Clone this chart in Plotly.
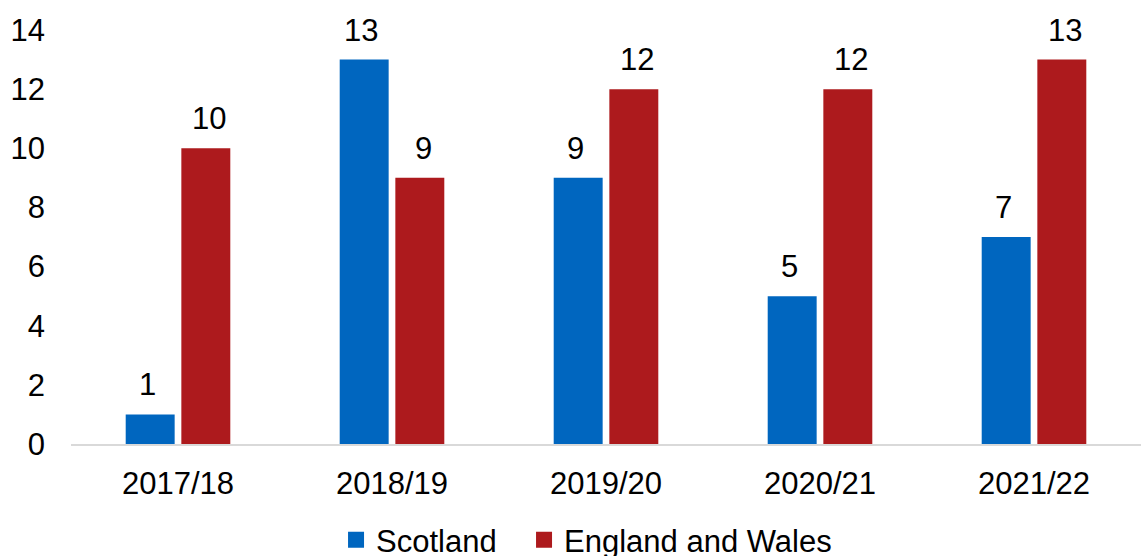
import plotly.graph_objects as go

categories = ["2017/18", "2018/19", "2019/20", "2020/21", "2021/22"]
scotland = [1, 13, 9, 5, 7]
england_wales = [10, 9, 12, 12, 13]
series_names = ["Scotland", "England and Wales"]
y_ticks = [0, 2, 4, 6, 8, 10, 12, 14]

BLUE = "#0066BF"
RED = "#AD1A1D"
FONT = "Liberation Sans, Arial, sans-serif"
FS = 31

fig = go.Figure()
for vals, name, col in ((scotland, series_names[0], BLUE), (england_wales, series_names[1], RED)):
    fig.add_trace(go.Bar(x=categories, y=vals, name=name, showlegend=False,
                         marker=dict(color=col, line=dict(width=0))))
for name, col, lg in ((series_names[0], BLUE, "legend"), (series_names[1], RED, "legend2")):
    fig.add_trace(go.Scatter(x=[None], y=[None], mode="markers", name=name,
                             marker=dict(symbol="square", size=17, color=col),
                             showlegend=True, hoverinfo="skip", legend=lg))

annotations = []
for vals, shift in ((scotland, -31), (england_wales, 31)):
    for c, v in zip(categories, vals):
        annotations.append(dict(x=c, y=v, text=str(v), showarrow=False,
                                xshift=shift, yshift=10, yanchor="bottom",
                                font=dict(family=FONT, size=FS, color="black")))

legend_style = dict(orientation="h", y=-0.167, yanchor="top", xanchor="left",
                    font=dict(family=FONT, size=FS, color="black"),
                    itemsizing="trace", bgcolor="rgba(0,0,0,0)", itemclick=False)

fig.update_layout(
    width=1141, height=556,
    margin=dict(l=71, r=0, t=30, b=112, autoexpand=False),
    paper_bgcolor="white", plot_bgcolor="white",
    barmode="group", bargap=0.48, bargroupgap=0.12,
    font=dict(family=FONT, size=FS, color="black"),
    annotations=annotations,
    showlegend=True,
    legend=dict(x=0.2477, **legend_style),
    legend2=dict(x=0.4234, **legend_style),
)
fig.update_yaxes(range=[0, 14], tickvals=y_ticks, showgrid=False, zeroline=False,
                 showline=False, ticklabelstandoff=25,
                 tickfont=dict(family=FONT, size=FS, color="black"))
fig.update_xaxes(showline=True, linecolor="#D9D9D9", linewidth=2, showgrid=False,
                 ticks="", ticklabelstandoff=11,
                 tickfont=dict(family=FONT, size=FS, color="black"))

fig.write_html("out.html")
